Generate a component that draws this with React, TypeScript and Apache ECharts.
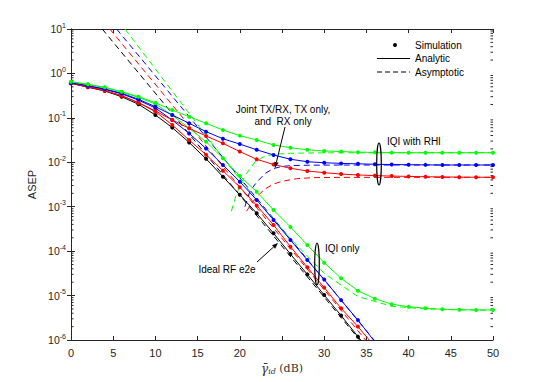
import React, { useEffect, useRef } from "react";
import * as echarts from "echarts";

// ---------- data ----------
const snrFull = [0, 2, 4, 6, 8, 10, 12, 14, 16, 18, 20, 22, 24, 26, 28, 30, 32, 34, 36, 38, 40, 42, 44, 46, 48, 50];
const snrLow = [0, 2, 4, 6, 8, 10, 12, 14, 16, 18, 20, 22, 24, 26, 28, 30, 32, 34, 36];

// IQI only (and ideal) — analytic + simulation
const idealRF = [0.6, 0.488, 0.403, 0.299, 0.202, 0.116, 0.0603, 0.0279, 0.012, 0.00474, 0.00186, 7.1e-4, 2.52e-4, 8.6e-5, 3.0e-5, 1.03e-5, 3.55e-6, 1.19e-6, 4.1e-7];
const redIqi = [0.6, 0.504, 0.412, 0.316, 0.219, 0.138, 0.0692, 0.0316, 0.0148, 0.00646, 0.00275, 0.00107, 3.88e-4, 1.26e-4, 4.33e-5, 1.51e-5, 5.18e-6, 2.0e-6, 7.1e-7];
const blueIqi = [0.61, 0.525, 0.437, 0.347, 0.251, 0.166, 0.0891, 0.0447, 0.0204, 0.00871, 0.00366, 0.00142, 5.0e-4, 1.78e-4, 6.3e-5, 2.29e-5, 7.9e-6, 2.8e-6, 9.1e-7];
const greenIqi = [0.646, 0.562, 0.479, 0.38, 0.288, 0.204, 0.115, 0.0582, 0.0291, 0.0123, 0.00491, 0.00218, 8.4e-4, 3.5e-4, 1.37e-4, 5.5e-5, 2.45e-5, 1.29e-5, 8.5e-6, 6.4e-6, 5.6e-6, 5.2e-6, 4.9e-6, 4.8e-6, 4.75e-6, 4.75e-6];

// IQI with RHI — analytic + simulation
const greenRhi = [0.652, 0.569, 0.488, 0.388, 0.299, 0.219, 0.15, 0.106, 0.0755, 0.0533, 0.0398, 0.0318, 0.0245, 0.0213, 0.0191, 0.018, 0.0174, 0.0169, 0.0167, 0.0165, 0.01644, 0.01644, 0.01644, 0.01644, 0.01644, 0.01644];
const blueRhi = [0.61, 0.53, 0.447, 0.357, 0.262, 0.178, 0.116, 0.0755, 0.0489, 0.0339, 0.0257, 0.0191, 0.0146, 0.0117, 0.0103, 0.00977, 0.00944, 0.00923, 0.00902, 0.00891, 0.00881, 0.00875, 0.00869, 0.00869, 0.00869, 0.00869];
const redRhi = [0.6, 0.504, 0.408, 0.316, 0.219, 0.143, 0.0895, 0.0582, 0.0391, 0.0267, 0.0174, 0.0117, 0.00891, 0.00733, 0.00637, 0.00583, 0.00543, 0.00519, 0.00501, 0.0049, 0.00481, 0.00473, 0.00468, 0.00463, 0.00461, 0.00459];

// Asymptotic curves
const idealAsymX = [3.7, 34.2];
const idealAsymY = [10, 1e-6];
const redAsymX = [4.6, 34.9];
const redAsymY = [10, 1e-6];
const blueAsymX = [5.4, 35.9];
const blueAsymY = [10, 1e-6];
const greenAsymX = [6.4, 10, 14, 18, 22, 26, 30, 34, 38, 42, 46, 50];
const greenAsymY = [10, 1.26, 0.126, 0.0126, 1.41e-3, 1.91e-4, 3.16e-5, 9.5e-6, 5.75e-6, 5.0e-6, 4.79e-6, 4.68e-6];

const redRhiAsymX = [20.8, 21.5, 22.2, 23, 24, 25, 26.7, 28.7, 32, 50];
const redRhiAsymY = [7.94e-4, 1.26e-3, 1.82e-3, 2.51e-3, 3.24e-3, 3.72e-3, 4.27e-3, 4.52e-3, 4.57e-3, 4.59e-3];
const blueRhiAsymX = [20.6, 21.2, 22, 23, 24, 25, 26, 28, 32, 50];
const blueRhiAsymY = [1.0e-3, 2.24e-3, 3.55e-3, 5.62e-3, 7.24e-3, 8.04e-3, 8.41e-3, 8.59e-3, 8.67e-3, 8.69e-3];
const greenRhiAsymX = [19.0, 19.6, 20.2, 20.8, 21.8, 22.8, 24, 26, 30, 50];
const greenRhiAsymY = [7.94e-4, 1.91e-3, 3.55e-3, 5.62e-3, 0.0102, 0.0132, 0.0151, 0.016, 0.01633, 0.01644];

const xTicks = [0, 5, 10, 15, 20, 25, 30, 35, 40, 45, 50];
const hiddenXTick = 25;

// ---------- helpers ----------
const RED = "#ff0000";
const BLUE = "#0000ff";
const GREEN = "#00ff00";
const BLACK = "#000000";
const AXIS = "#262626";

const pairs = (xs: number[], ys: number[]) => xs.map((x, i) => [x, ys[i]]);

const solid = (name: string, color: string, xs: number[], ys: number[]) => ({
  type: "line",
  name,
  data: pairs(xs, ys),
  xAxisIndex: 0,
  yAxisIndex: 0,
  symbol: "circle",
  symbolSize: 4,
  showSymbol: true,
  lineStyle: { color, width: 1 },
  itemStyle: { color },
  silent: true,
  z: 4,
});

const dashed = (name: string, color: string, xs: number[], ys: number[]) => ({
  type: "line",
  name,
  data: pairs(xs, ys),
  xAxisIndex: 0,
  yAxisIndex: 0,
  symbol: "none",
  smooth: false,
  lineStyle: { color, width: 1, type: [6, 4] },
  silent: true,
  z: 3,
});

function arrow(x1: number, y1: number, x2: number, y2: number) {
  const dx = x2 - x1;
  const dy = y2 - y1;
  const len = Math.sqrt(dx * dx + dy * dy);
  const ux = dx / len;
  const uy = dy / len;
  const L = 6;
  const w = 2.3;
  const bx = x2 - ux * L;
  const by = y2 - uy * L;
  return [
    { type: "line", shape: { x1, y1, x2: bx, y2: by }, style: { stroke: "#000", lineWidth: 1 }, z: 10 },
    {
      type: "polygon",
      shape: { points: [[x2, y2], [bx - uy * w, by + ux * w], [bx + uy * w, by - ux * w]] },
      style: { fill: "#000" },
      z: 10,
    },
  ];
}

const textEl = (text: string, x: number, y: number, align: string) => ({
  type: "text",
  x,
  y,
  z: 10,
  style: {
    text,
    fill: "#000",
    fontSize: 10,
    fontFamily: "Liberation Sans",
    textAlign: align,
    textVerticalAlign: "middle",
    align,
    verticalAlign: "middle",
    lineHeight: 12,
  },
});

export default function App() {
  const ref = useRef<HTMLDivElement>(null);

  useEffect(() => {
    if (!ref.current) return;
    const chart = echarts.init(ref.current, undefined, { renderer: "svg" });

    const minorVals: number[][] = [];
    for (let e = -6; e < 1; e++) {
      for (let m = 2; m <= 9; m++) minorVals.push([0, m * Math.pow(10, e)]);
    }

    const option: any = {
      animation: false,
      backgroundColor: "#ffffff",
      grid: { left: 71, right: 52, top: 29, bottom: 42, containLabel: false, outerBoundsMode: "none" },
      xAxis: [
        {
          type: "value",
          min: 0,
          max: 50,
          interval: 5,
          position: "bottom",
          axisLine: { show: true, lineStyle: { color: AXIS, width: 1 } },
          axisTick: { show: true, inside: true, length: 4, lineStyle: { color: AXIS } },
          splitLine: { show: false },
          axisLabel: {
            color: AXIS,
            fontSize: 11,
            fontFamily: "Liberation Sans",
            margin: 7,
            formatter: (v: number) => (v === hiddenXTick || xTicks.indexOf(v) < 0 ? "" : String(v)),
          },
          name: "{g|γ̄}{s|id} {n|(dB)}",
          nameLocation: "middle",
          nameGap: 17,
          nameTextStyle: {
            color: "#333",
            fontFamily: "DejaVu Serif",
            fontSize: 11,
            rich: {
              g: { fontFamily: "DejaVu Serif", fontStyle: "italic", fontSize: 12, color: "#333" },
              s: { fontFamily: "DejaVu Serif", fontStyle: "italic", fontSize: 8, color: "#333", padding: [6, 0, 0, 0] },
              n: { fontFamily: "DejaVu Serif", fontSize: 11, color: "#333" },
            },
          },
        },
        {
          type: "value",
          min: 0,
          max: 50,
          interval: 5,
          position: "top",
          axisLine: { show: true, lineStyle: { color: AXIS, width: 1 } },
          axisTick: { show: true, inside: true, length: 4, lineStyle: { color: AXIS } },
          axisLabel: { show: false },
          splitLine: { show: false },
        },
      ],
      yAxis: [
        {
          type: "log",
          logBase: 10,
          min: 1e-6,
          max: 10,
          splitNumber: 7,
          position: "left",
          axisLine: { show: true, lineStyle: { color: AXIS, width: 1 } },
          axisTick: { show: true, inside: true, length: 4, lineStyle: { color: AXIS } },
          splitLine: { show: false },
          axisLabel: {
            color: AXIS,
            fontFamily: "Liberation Sans",
            fontSize: 10,
            margin: 5,
            formatter: (v: number) => {
              const e = Math.round(Math.log10(v));
              return "{b|10}{s|" + e + "}";
            },
            rich: {
              b: { fontSize: 10.5, fontFamily: "Liberation Sans", color: AXIS },
              s: { fontSize: 7, fontFamily: "Liberation Sans", color: AXIS, padding: [0, 0, 8, 0] },
            },
          },
          name: "ASEP",
          nameLocation: "middle",
          nameGap: 25,
          nameTextStyle: { color: AXIS, fontFamily: "Liberation Sans", fontSize: 11 },
        },
        {
          type: "log",
          logBase: 10,
          min: 1e-6,
          max: 10,
          splitNumber: 7,
          position: "right",
          axisLine: { show: true, lineStyle: { color: AXIS, width: 1 } },
          axisTick: { show: true, inside: true, length: 4, lineStyle: { color: AXIS } },
          axisLabel: { show: false },
          splitLine: { show: false },
        },
      ],
      series: [
        {
          type: "custom",
          name: "minorTicks",
          silent: true,
          xAxisIndex: 0,
          yAxisIndex: 0,
          data: minorVals,
          z: 1,
          renderItem: (params: any, api: any) => {
            const v = api.value(1);
            const pL = api.coord([0, v]);
            const pR = api.coord([50, v]);
            return {
              type: "group",
              children: [
                { type: "line", shape: { x1: pL[0], y1: pL[1], x2: pL[0] + 2.5, y2: pL[1] }, style: { stroke: AXIS, lineWidth: 1 } },
                { type: "line", shape: { x1: pR[0] - 2.5, y1: pR[1], x2: pR[0], y2: pR[1] }, style: { stroke: AXIS, lineWidth: 1 } },
              ],
            };
          },
        },
        dashed("Asym ideal", BLACK, idealAsymX, idealAsymY),
        dashed("Asym red IQI", RED, redAsymX, redAsymY),
        dashed("Asym blue IQI", BLUE, blueAsymX, blueAsymY),
        dashed("Asym green IQI", GREEN, greenAsymX, greenAsymY),
        dashed("Asym red RHI", RED, redRhiAsymX, redRhiAsymY),
        dashed("Asym blue RHI", BLUE, blueRhiAsymX, blueRhiAsymY),
        dashed("Asym green RHI", GREEN, greenRhiAsymX, greenRhiAsymY),
        solid("Ideal RF e2e", BLACK, snrLow, idealRF),
        solid("Red IQI only", RED, snrLow, redIqi),
        solid("Blue IQI only", BLUE, snrLow, blueIqi),
        solid("Green IQI only", GREEN, snrFull, greenIqi),
        solid("Red IQI RHI", RED, snrFull, redRhi),
        solid("Blue IQI RHI", BLUE, snrFull, blueRhi),
        solid("Green IQI RHI", GREEN, snrFull, greenRhi),
      ],
      graphic: [
        // legend
        { type: "circle", shape: { cx: 395, cy: 45, r: 2 }, style: { fill: "#000" }, z: 10 },
        textEl("Simulation", 415, 45, "left"),
        { type: "line", shape: { x1: 377, y1: 58.5, x2: 410, y2: 58.5 }, style: { stroke: "#000", lineWidth: 1 }, z: 10 },
        textEl("Analytic", 415, 58, "left"),
        { type: "line", shape: { x1: 377, y1: 72, x2: 410, y2: 72 }, style: { stroke: "#000", lineWidth: 1, lineDash: [5, 3] }, z: 10 },
        textEl("Asymptotic", 415, 72, "left"),
        // annotations
        textEl("Joint TX/RX, TX only,\nand  RX only", 283, 115, "center"),
        ...arrow(285, 127, 275, 168),
        textEl("IQI with RHI", 387, 141, "left"),
        { type: "ellipse", shape: { cx: 379, cy: 164, rx: 2.3, ry: 21 }, style: { fill: "none", stroke: "#000", lineWidth: 1.2 }, z: 10 },
        textEl("IQI only", 325, 248, "left"),
        { type: "ellipse", shape: { cx: 317, cy: 264, rx: 2.3, ry: 21 }, style: { fill: "none", stroke: "#000", lineWidth: 1.2 }, z: 10 },
        textEl("Ideal RF e2e", 227, 269, "center"),
        ...arrow(257, 262, 278, 243),
      ],
    };

    chart.setOption(option);
    return () => chart.dispose();
  }, []);

  return (
    <div
      ref={ref}
      style={{ position: "fixed", left: 0, top: 0, width: 545, height: 382, background: "#fff" }}
    />
  );
}
